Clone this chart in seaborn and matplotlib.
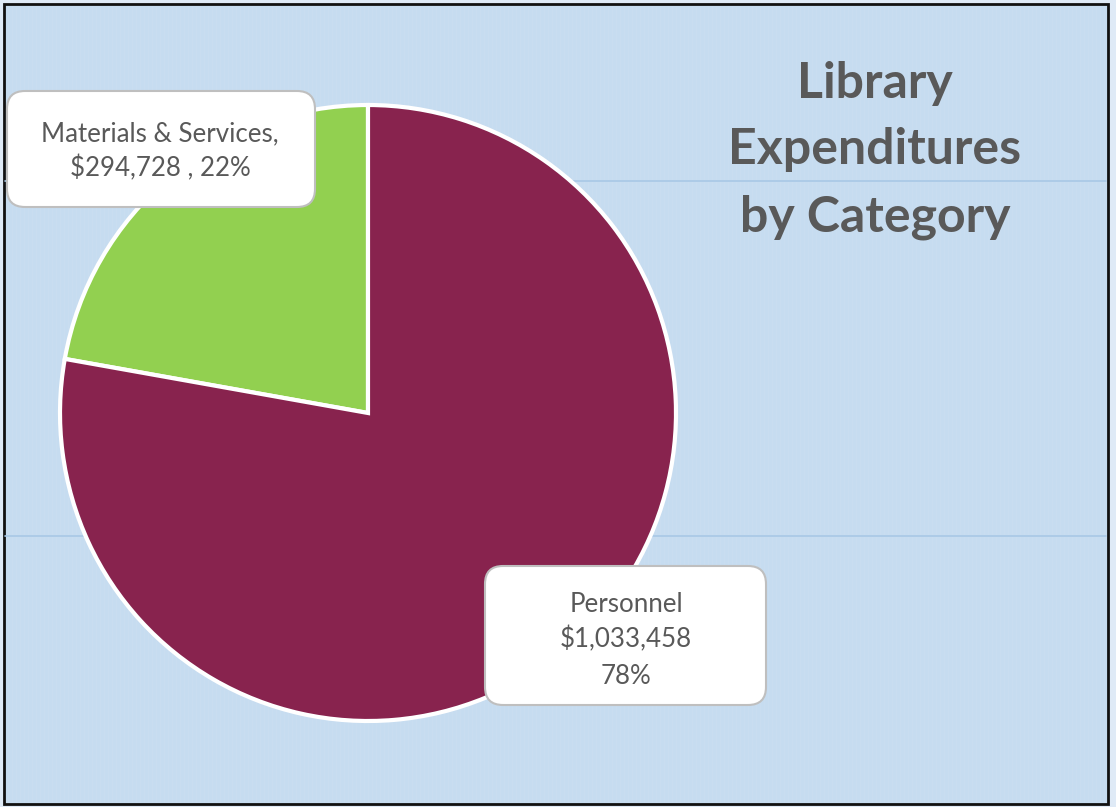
import matplotlib
matplotlib.use("Agg")
import matplotlib.pyplot as plt
from matplotlib.patches import Rectangle, FancyBboxPatch
import seaborn as sns

categories = ["Materials & Services", "Personnel"]
amounts = [294728, 1033458]
percents = ["22%", "78%"]
colors = ["#92d050", "#88234e"]
title_lines = ["Library", "Expenditures", "by Category"]

sns.set_style("white")
plt.rcParams["font.family"] = ["Lato", "DejaVu Sans"]

W, H = 1116, 807
fig = plt.figure(figsize=(W / 100, H / 100), dpi=100)
fig.patch.set_facecolor("#dfeaf6")
ax = fig.add_axes([0, 0, 1, 1])

def Y(y):
    return H - y

# panel
ax.add_patch(Rectangle((4, Y(804)), 1104, 800, facecolor="#c6dcf0",
                       edgecolor="#111111", linewidth=2, zorder=0))
# faint texture grid
for gx in range(8, 1106, 4):
    ax.plot([gx, gx], [Y(6), Y(802)], color="#d2e3f3", lw=0.4, alpha=0.5, zorder=0.5)
# faint horizontal lines
for gy in [181, 536]:
    ax.plot([5, 1106], [Y(gy), Y(gy)], color="#a8c8e6", lw=1.2, zorder=0.6)

cx, cy, r = 368, 413, 308
wedges, _ = ax.pie(amounts, colors=colors, startangle=90, counterclock=True,
                   center=(cx, Y(cy)), radius=r, frame=True,
                   wedgeprops=dict(edgecolor="white", linewidth=3))
for w in wedges:
    w.set_zorder(2)

ax.set_xlim(0, W)
ax.set_ylim(0, H)
ax.set_aspect("auto")
ax.axis("off")

def box(x0, y0, x1, y1):
    ax.add_patch(FancyBboxPatch((x0 + 18, Y(y1) + 18), (x1 - x0) - 36, (y1 - y0) - 36,
                                boxstyle="round,pad=18", facecolor="white",
                                edgecolor="#bfbfbf", linewidth=1.5, zorder=3))

box(7, 91, 315, 207)
box(485, 566, 766, 705)

tc = "#595959"
fs = 18.6
ax.text(160, Y(134), f"{categories[0]},", ha="center", va="center",
        fontsize=fs, color=tc, zorder=4)
ax.text(160, Y(168), f"${amounts[0]:,} , {percents[0]}", ha="center", va="center",
        fontsize=fs, color=tc, zorder=4)

ax.text(626, Y(605), categories[1], ha="center", va="center",
        fontsize=fs, color=tc, zorder=4)
ax.text(626, Y(639), f"${amounts[1]:,}", ha="center", va="center",
        fontsize=fs, color=tc, zorder=4)
ax.text(626, Y(676), percents[1], ha="center", va="center",
        fontsize=fs, color=tc, zorder=4)

for i, line in enumerate(title_lines):
    ax.text(875, Y(83 + i * 67), line, ha="center", va="center",
            fontsize=36, fontweight="bold", color=tc, zorder=4)

fig.savefig("out.png", dpi=100, facecolor=fig.get_facecolor())
